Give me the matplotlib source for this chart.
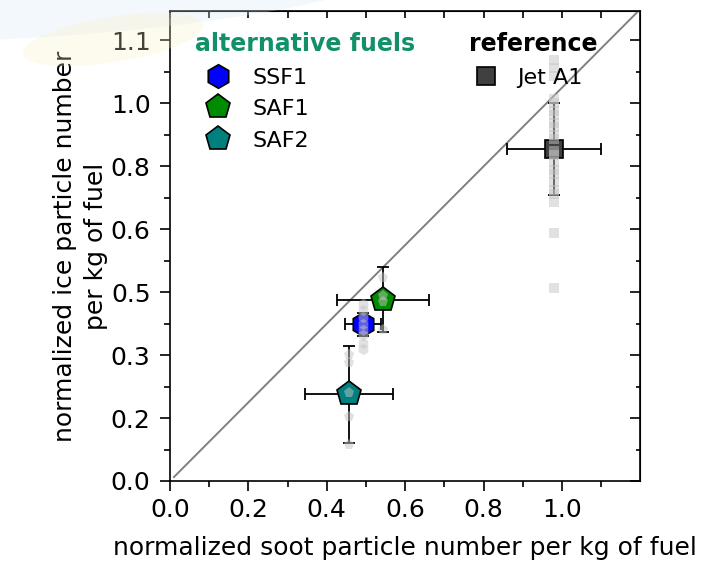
import matplotlib
matplotlib.use("Agg")
import matplotlib.pyplot as plt
from matplotlib.patches import Ellipse
from matplotlib.ticker import MultipleLocator, FixedLocator, FuncFormatter

plt.rcParams['font.family'] = ['DejaVu Sans']

# ---------------- data ----------------
fuels = ["SSF1", "SAF1", "SAF2"]
fuel_x = [0.492, 0.544, 0.457]
fuel_y = [0.398, 0.461, 0.220]
fuel_xerr = [0.045, 0.117, 0.112]
fuel_yerr = [0.030, 0.082, 0.124]
fuel_markers = ["h", "p", "p"]
fuel_colors = ["#0000FF", "#008C00", "#007F7F"]

ref_label = "Jet A1"
ref_x = 0.979
ref_y = 0.844
ref_xerr = 0.120
ref_yerr = 0.117

# individual measurements (grey)
ssf1_pts_y = [0.451, 0.435, 0.418, 0.400, 0.385, 0.370, 0.352, 0.335]
saf1_pts_y = [0.517, 0.470, 0.455, 0.383]
saf2_pts_y = [0.320, 0.299, 0.223, 0.162, 0.091]
jet_pts_y = [1.07, 1.05, 1.03, 0.97, 0.96, 0.94, 0.93, 0.91, 0.90, 0.88, 0.87,
             0.84, 0.83, 0.81, 0.79, 0.78, 0.76, 0.74, 0.73, 0.71, 0.63, 0.49]

diag = [0.01, 1.2]

yticks = [0.0, 0.16, 0.32, 0.48, 0.64, 0.80, 0.96, 1.12]

# ---------------- figure ----------------
fig = plt.figure(figsize=(7.07, 5.62), dpi=100)

# faint background watermark
fig.patches.append(Ellipse((0.17, 0.99), 0.70, 0.09, angle=7, transform=fig.transFigure,
                           facecolor="#d6e8f6", alpha=0.28, edgecolor="none", zorder=0))
fig.patches.append(Ellipse((0.16, 0.93), 0.26, 0.08, angle=12, transform=fig.transFigure,
                           facecolor="#fbefc4", alpha=0.28, edgecolor="none", zorder=0))

ax = fig.add_axes([170/707, 1-481/562, 470/707, 470/562])
ax.set_facecolor("none")
ax.set_xlim(0, 1.199)
ax.set_ylim(0, 1.195)

ax.plot(diag, diag, color="#808080", lw=1.4, zorder=1)

# error bars
for i in range(len(fuels)):
    ax.errorbar(fuel_x[i], fuel_y[i], xerr=fuel_xerr[i], yerr=fuel_yerr[i], fmt="none",
                ecolor="black", elinewidth=1.3, capsize=4, capthick=1.3, zorder=2)
ax.errorbar(ref_x, ref_y, xerr=ref_xerr, yerr=ref_yerr, fmt="none",
            ecolor="black", elinewidth=1.3, capsize=4, capthick=1.3, zorder=2)

# main markers
handles = []
sizes = {"h": 17, "p": 18.5}
for i in range(len(fuels)):
    h, = ax.plot(fuel_x[i], fuel_y[i], linestyle="none", marker=fuel_markers[i],
                 markersize=sizes[fuel_markers[i]], markerfacecolor=fuel_colors[i],
                 markeredgecolor="black", markeredgewidth=1.2, zorder=3, label=fuels[i])
    handles.append(h)
href, = ax.plot(ref_x, ref_y, linestyle="none", marker="s", markersize=13,
                markerfacecolor="#404040", markeredgecolor="black", markeredgewidth=1.2,
                zorder=3, label=ref_label)

# grey individual points
gcol = "#c4c4c4"
ax.plot([fuel_x[0]]*len(ssf1_pts_y), ssf1_pts_y, linestyle="none", marker="h", markersize=8,
        color=gcol, alpha=0.5, markeredgewidth=0, zorder=4)
ax.plot([fuel_x[1]]*len(saf1_pts_y), saf1_pts_y, linestyle="none", marker="p", markersize=8,
        color=gcol, alpha=0.5, markeredgewidth=0, zorder=4)
ax.plot([fuel_x[2]]*len(saf2_pts_y), saf2_pts_y, linestyle="none", marker="p", markersize=8,
        color=gcol, alpha=0.5, markeredgewidth=0, zorder=4)
ax.plot([ref_x]*len(jet_pts_y), jet_pts_y, linestyle="none", marker="s", markersize=7,
        color=gcol, alpha=0.5, markeredgewidth=0, zorder=4)

# axes styling
for s in ax.spines.values():
    s.set_linewidth(1.2)
ax.xaxis.set_major_locator(MultipleLocator(0.2))
ax.xaxis.set_minor_locator(MultipleLocator(0.1))
ax.xaxis.set_major_formatter(FuncFormatter(lambda v, p: f"{v:.1f}"))
ax.yaxis.set_major_locator(FixedLocator(yticks))
ax.yaxis.set_minor_locator(MultipleLocator(0.08))
ax.yaxis.set_major_formatter(FuncFormatter(lambda v, p: f"{v:.1f}"))
ax.tick_params(which="both", direction="out", width=1.2, labelsize=18, colors="black")
ax.tick_params(which="major", length=7)
ax.tick_params(which="minor", length=4)
ax.tick_params(axis="y", which="major", pad=7)
ax.tick_params(axis="x", which="major", pad=5)

secx = ax.secondary_xaxis("top")
secx.xaxis.set_major_locator(MultipleLocator(0.2))
secx.xaxis.set_minor_locator(MultipleLocator(0.1))
secx.tick_params(which="both", direction="in", width=1.2, labeltop=False)
secx.tick_params(which="major", length=5)
secx.tick_params(which="minor", length=5)
secy = ax.secondary_yaxis("right")
secy.yaxis.set_major_locator(FixedLocator(yticks))
secy.yaxis.set_minor_locator(MultipleLocator(0.08))
secy.tick_params(which="both", direction="in", width=1.2, labelright=False)
secy.tick_params(which="major", length=7)
secy.tick_params(which="minor", length=3)

ax.set_xlabel("normalized soot particle number per kg of fuel", fontsize=18, labelpad=10)
ax.set_ylabel("normalized ice particle number\nper kg of fuel", fontsize=18,
              ha="center", va="center", multialignment="center", linespacing=1.35)
ax.yaxis.set_label_coords(-0.19, 0.50)

# legends
leg1 = ax.legend(handles=handles, labels=fuels, loc="upper left",
                 bbox_to_anchor=((195-170)/470, (481-32)/470), frameon=False,
                 title="alternative fuels", alignment="left", fontsize=16,
                 handlelength=2.1, handletextpad=0.5, labelspacing=0.52,
                 borderpad=0.0, borderaxespad=0.0)
leg1.get_title().set_fontweight("bold")
leg1.get_title().set_fontsize(17)
leg1.get_title().set_color("#13906A")
ax.add_artist(leg1)

leg2 = ax.legend(handles=[href], labels=[ref_label], loc="upper left",
                 bbox_to_anchor=((469-170)/470, (481-32)/470), frameon=False,
                 title="reference", alignment="left", fontsize=16,
                 handlelength=1.5, handletextpad=0.65, labelspacing=0.52,
                 borderpad=0.0, borderaxespad=0.0)
leg2.get_title().set_fontweight("bold")
leg2.get_title().set_fontsize(17)
leg2.get_title().set_color("black")

fig.savefig("out.png", dpi=100)
